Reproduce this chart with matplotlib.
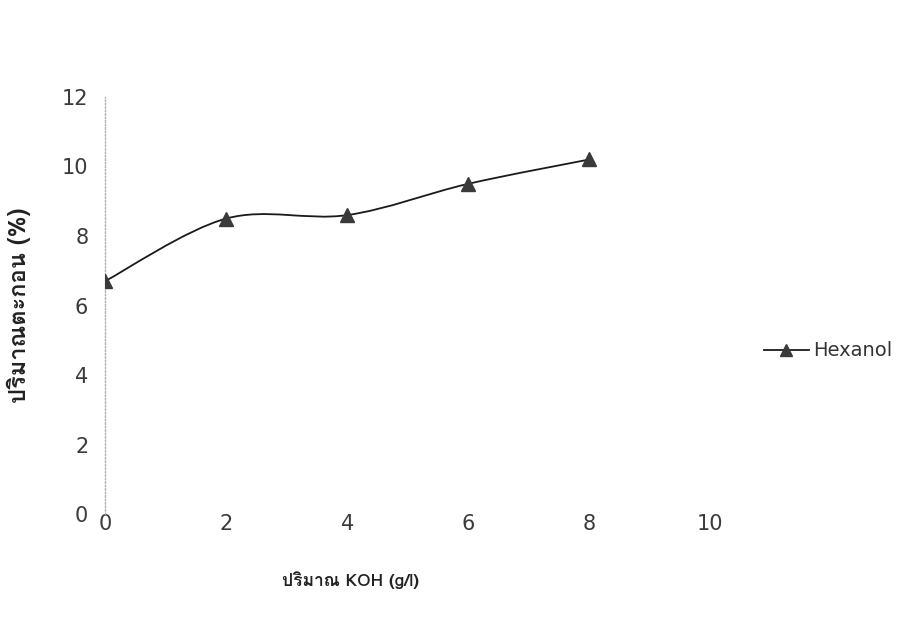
import matplotlib
matplotlib.use("Agg")
import matplotlib.pyplot as plt
from matplotlib import font_manager
from matplotlib.ft2font import FT2Font
from matplotlib.path import Path
from matplotlib.patches import PathPatch
import numpy as np

# ข้อมูล: ปริมาณ KOH กับปริมาณตะกอน
koh = [0, 2, 4, 6, 8]
sediment = [6.7, 8.5, 8.6, 9.5, 10.2]
series_name = "Hexanol"
x_ticks = [0, 2, 4, 6, 8, 10]
y_ticks = [0, 2, 4, 6, 8, 10, 12]
x_label = "ปริมาณ KOH (g/l)"
y_label = "ปริมาณตะกอน (%)"


def thai_family():
    # หาฟอนต์ที่มีอักษรไทย
    for f in font_manager.fontManager.ttflist:
        try:
            if 0x0E1B in FT2Font(f.fname).get_charmap():
                return f.name
        except Exception:
            pass
    return "DejaVu Sans"


fam = [thai_family(), "DejaVu Sans"]
plt.rcParams["font.family"] = ["DejaVu Sans"]

fig = plt.figure(figsize=(9.05, 6.21), dpi=100)
ax = fig.add_axes([0.116, 0.172, 0.669, 0.672])

# เส้นโค้งแบบ smooth (Bezier) ผ่านทุกจุด
pts = np.column_stack([koh, sediment]).astype(float)
ext = np.vstack([pts[0], pts, pts[-1]])
verts = [tuple(pts[0])]
codes = [Path.MOVETO]
for i in range(len(pts) - 1):
    p0, p1, p2, p3 = ext[i], ext[i + 1], ext[i + 2], ext[i + 3]
    c1 = p1 + (p2 - p0) / 6.0
    c2 = p2 - (p3 - p1) / 6.0
    verts += [tuple(c1), tuple(c2), tuple(p2)]
    codes += [Path.CURVE4] * 3
ax.add_patch(PathPatch(Path(verts, codes), facecolor="none",
                       edgecolor="#1a1a1a", lw=1.3, zorder=2))

ax.plot(koh, sediment, ls="none", marker="^", ms=9.5, color="#3a3a3a", zorder=3)

ax.set_xlim(0, 10)
ax.set_ylim(0, 12)
ax.set_xticks(x_ticks)
ax.set_yticks(y_ticks)
ax.tick_params(axis="both", length=0, labelsize=15, labelcolor="#3a3a3a")
ax.tick_params(axis="x", pad=0)
ax.tick_params(axis="y", pad=12)

for s in ["top", "right", "bottom"]:
    ax.spines[s].set_visible(False)
ax.spines["left"].set_color("#b0b0b0")
ax.spines["left"].set_linestyle((0, (1, 1.5)))
ax.spines["left"].set_linewidth(1.0)

ax.set_xlabel(x_label, fontsize=12.5, family=fam, fontweight="bold", color="#222222")
ax.xaxis.set_label_coords(0.405, -0.137)
ax.set_ylabel(y_label, fontsize=17, family=fam, fontweight="bold", color="#222222")
ax.yaxis.set_label_coords(-0.122, 0.5)

handle = plt.Line2D([], [], color="#1a1a1a", lw=1.3, marker="^", ms=8,
                    markerfacecolor="#3a3a3a", markeredgecolor="#3a3a3a")
fig.legend([handle], [series_name], loc="center left",
           bbox_to_anchor=(0.844, 0.435), frameon=False, fontsize=14,
           handlelength=2.3, handletextpad=0.25, borderaxespad=0,
           borderpad=0, labelcolor="#333333")

fig.savefig("out.png", dpi=100, facecolor="white")
